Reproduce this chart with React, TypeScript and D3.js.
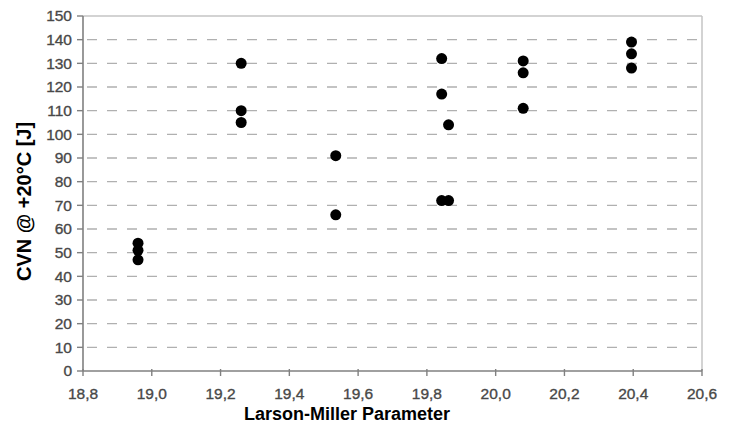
import * as d3 from 'd3'
import * as React from 'react'

// Larson-Miller parameter vs. Charpy impact energy
const lmpValues: number[] = [
  18.96, 18.96, 18.96,
  19.26, 19.26, 19.26,
  19.535, 19.535,
  19.843, 19.843, 19.843,
  19.863, 19.863,
  20.08, 20.08, 20.08,
  20.395, 20.395, 20.395,
]
const cvnValues: number[] = [
  54, 51, 47,
  130, 110, 105,
  91, 66,
  132, 117, 72,
  104, 72,
  131, 126, 111,
  139, 134, 128,
]
const xTicks: number[] = [18.8, 19.0, 19.2, 19.4, 19.6, 19.8, 20.0, 20.2, 20.4, 20.6]
const yTicks: number[] = [0, 10, 20, 30, 40, 50, 60, 70, 80, 90, 100, 110, 120, 130, 140, 150]

const xTitle = 'Larson-Miller Parameter'
const yTitle = 'CVN @ +20°C [J]'

const W = 732
const H = 431
const margin = { top: 16, right: 30, bottom: 60, left: 83 }

export default function App() {
  const x = d3.scaleLinear().domain([18.8, 20.6]).range([margin.left, W - margin.right])
  const y = d3.scaleLinear().domain([0, 150]).range([H - margin.bottom, margin.top])
  const fmtX = (d: number) => d3.format('.1f')(d).replace('.', ',')
  const points = d3.zip(lmpValues, cvnValues)

  const x0 = x.range()[0]
  const x1 = x.range()[1]
  const y0 = y.range()[0]
  const y1 = y.range()[1]

  const tickFont = {
    fontFamily: 'Liberation Sans, Arial, sans-serif',
    fontSize: 15.5,
    fill: '#484848',
    stroke: '#484848',
    strokeWidth: 0.35,
  }

  return (
    <svg width={W} height={H} style={{ position: 'absolute', left: 0, top: 0, background: '#fff' }}>
      {/* frame */}
      <line x1={x0} x2={x1} y1={y1} y2={y1} stroke="#c4c4c4" strokeWidth={1.5} />
      <line x1={x1} x2={x1} y1={y1} y2={y0} stroke="#c4c4c4" strokeWidth={1.5} />

      {/* dashed grid */}
      {yTicks.filter(t => t > 0 && t < 150).map(t => (
        <line key={'g' + t} x1={x0 + 4} x2={x1} y1={y(t)} y2={y(t)}
          stroke="#b0b0b0" strokeWidth={1.4} strokeDasharray="10,10" />
      ))}

      {/* y axis */}
      <line x1={x0} x2={x0} y1={y1} y2={y0} stroke="#808080" strokeWidth={1.6} />
      {yTicks.map(t => (
        <g key={'y' + t}>
          <line x1={x0 - 6} x2={x0} y1={y(t)} y2={y(t)} stroke="#808080" strokeWidth={1.4} />
          <text x={x0 - 11} y={y(t)} dy="0.35em" textAnchor="end" {...tickFont}>{t}</text>
        </g>
      ))}

      {/* x axis */}
      <line x1={x0} x2={x1} y1={y0} y2={y0} stroke="#808080" strokeWidth={1.6} />
      {xTicks.map(t => (
        <g key={'x' + t}>
          <line x1={x(t)} x2={x(t)} y1={y0 - 2} y2={y0 + 5} stroke="#808080" strokeWidth={1.4} />
          <text x={x(t)} y={y0 + 23} dy="0.35em" textAnchor="middle" {...tickFont}>{fmtX(t)}</text>
        </g>
      ))}

      {/* points */}
      {points.map(([lmp, cvn], i) => (
        <circle key={'p' + i} cx={x(lmp)} cy={y(cvn)} r={5.5} fill="#000" />
      ))}

      {/* titles */}
      <text x={347} y={H - 11} textAnchor="middle" fontFamily="Liberation Sans, Arial, sans-serif"
        fontWeight="bold" fontSize={18} fill="#000">{xTitle}</text>
      <text transform={`translate(31,${(y0 + y1) / 2 + 8}) rotate(-90)`} textAnchor="middle"
        fontFamily="Liberation Sans, Arial, sans-serif" fontWeight="bold" fontSize={20} fill="#000">{yTitle}</text>
    </svg>
  )
}
